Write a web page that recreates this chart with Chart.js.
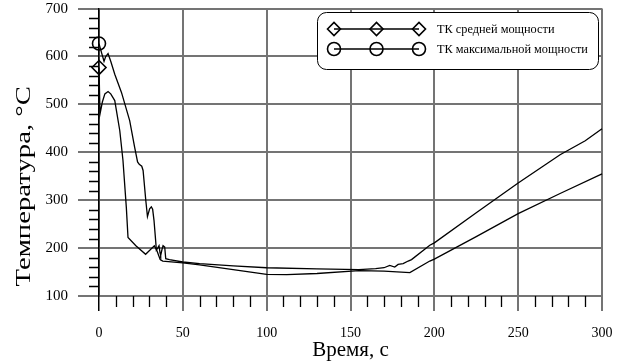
<!DOCTYPE html>
<html>
<head>
<meta charset="utf-8">
<script src="https://cdn.jsdelivr.net/npm/chart.js@4/dist/chart.umd.min.js"></script>
<style>
  html, body { margin: 0; padding: 0; background: #fff; }
  #wrap { width: 622px; height: 362px; }
</style>
</head>
<body>
<div id="wrap"><canvas id="chart" width="622" height="362"></canvas></div>
<script>
// ТК максимальной мощности
const timeMax = [0, 1.5, 3, 4, 5.4, 7, 9.4, 13.4, 18.3, 21.3, 23, 24, 25.5, 26.3, 27.9, 28.9, 30.2, 31.2, 32, 32.8, 33.8, 34.2, 35, 35.8, 36.4, 36.8, 37.5, 38.2, 39.2, 39.8, 42, 50, 60, 80, 100, 130, 155, 165, 170, 173.4, 176.4, 178.4, 181.4, 184.4, 186.4, 197.3, 200, 225, 250, 275, 290, 300];
const tempMax = [627, 608, 590, 600, 606, 590, 563, 525, 466, 410, 380, 375, 371, 362, 300, 266, 282, 286, 281, 258, 215, 196, 200, 205, 190, 185, 196, 205, 202, 178, 176, 171, 167.5, 163, 159, 156.5, 155, 157, 159, 164, 160.5, 166, 167.5, 173, 176, 206, 211, 274, 336, 395, 424, 449];

// ТК средней мощности
const timeAvg = [0, 0.6, 2, 3.5, 5.4, 7, 9.4, 12.4, 14.3, 16.3, 17.3, 22, 27.8, 33, 34.5, 36.5, 38, 50, 60, 80, 100, 112, 130, 155, 170, 185.4, 197.3, 200, 225, 250, 275, 300];
const tempAvg = [577, 480, 505, 522, 527, 522, 508, 445, 383, 285, 222, 205, 187, 205, 195, 176, 173, 169, 165, 155, 145, 144.5, 147, 153, 152, 149, 173, 177, 224, 272, 314, 355];

const seriesNames = ['ТК средней мощности', 'ТК максимальной мощности'];
const xMin = 0, xMax = 300, xMajor = 50, xMinor = 10;
const yMin = 100, yMax = 700, yMajor = 100, yMinor = 20;

const FONT = 'Liberation Serif';
const GRID = '#747474';

function toPoints(xs, ys) {
  return xs.map((x, i) => ({ x: x, y: ys[i] }));
}

// minor ticks, the y-axis title and the framed legend
const extras = {
  id: 'extras',
  afterDraw(chart) {
    const ctx = chart.ctx;
    const xs = chart.scales.x, ys = chart.scales.y;
    const area = chart.chartArea;
    ctx.save();
    ctx.strokeStyle = '#000';
    ctx.lineWidth = 1.3;
    ctx.beginPath();
    for (let v = xMin; v <= xMax; v += xMinor) {
      if (v % xMajor === 0) continue;
      const px = Math.round(xs.getPixelForValue(v)) + 0.5;
      ctx.moveTo(px, area.bottom);
      ctx.lineTo(px, area.bottom + 11);
    }
    for (let v = yMin; v <= yMax; v += yMinor) {
      if (v % yMajor === 0) continue;
      const py = Math.round(ys.getPixelForValue(v)) + 0.5;
      ctx.moveTo(area.left, py);
      ctx.lineTo(area.left - 10, py);
    }
    ctx.stroke();

    // y title
    ctx.save();
    ctx.translate(25, (area.top + area.bottom) / 2 + 34);
    ctx.rotate(-Math.PI / 2);
    ctx.scale(1.4, 1);
    ctx.fillStyle = '#000';
    ctx.font = '20.5px "' + FONT + '"';
    ctx.textAlign = 'center';
    ctx.textBaseline = 'middle';
    ctx.fillText('Температура, °C', 0, 0);
    ctx.restore();

    // legend
    ctx.beginPath();
    ctx.roundRect(317.5, 12.5, 281, 57, 9);
    ctx.fillStyle = '#fff';
    ctx.fill();
    ctx.strokeStyle = '#000';
    ctx.lineWidth = 1;
    ctx.stroke();
    const rows = [29, 49];
    chart.data.datasets.forEach((ds, i) => {
      const y = rows[i];
      ctx.strokeStyle = '#000';
      ctx.lineWidth = 1.3;
      ctx.beginPath();
      ctx.moveTo(334, y);
      ctx.lineTo(419, y);
      ctx.stroke();
      [334, 376.5, 419].forEach(x => {
        ctx.strokeStyle = '#000';
        ctx.fillStyle = 'rgba(0,0,0,0)';
        ctx.lineWidth = 1.6;
        Chart.helpers.drawPoint(ctx, {
          pointStyle: ds.pointStyle,
          radius: 6.5,
          rotation: 0,
          borderWidth: 1.6
        }, x, y);
      });
      ctx.fillStyle = '#000';
      ctx.font = '12.3px "' + FONT + '"';
      ctx.textAlign = 'left';
      ctx.textBaseline = 'middle';
      ctx.fillText(ds.label, 437, y + 0.5);
    });
    ctx.restore();
  }
};

function markerRadius(r) {
  return ctx => (ctx.dataIndex === 0 ? r : 0);
}

new Chart(document.getElementById('chart'), {
  type: 'line',
  data: {
    datasets: [
      {
        label: seriesNames[0],
        data: toPoints(timeAvg, tempAvg),
        borderColor: '#000',
        borderWidth: 1.3,
        pointStyle: 'rectRot',
        pointRadius: markerRadius(7),
        pointHoverRadius: 0,
        pointBorderColor: '#000',
        pointBackgroundColor: 'rgba(0,0,0,0)',
        pointBorderWidth: 1.6,
        tension: 0,
        clip: false
      },
      {
        label: seriesNames[1],
        data: toPoints(timeMax, tempMax),
        borderColor: '#000',
        borderWidth: 1.3,
        pointStyle: 'circle',
        pointRadius: markerRadius(6.5),
        pointHoverRadius: 0,
        pointBorderColor: '#000',
        pointBackgroundColor: 'rgba(0,0,0,0)',
        pointBorderWidth: 1.6,
        tension: 0,
        clip: false
      }
    ]
  },
  options: {
    responsive: false,
    animation: false,
    devicePixelRatio: 1,
    layout: { padding: { top: 8, right: 20, bottom: 0, left: 0 } },
    plugins: {
      legend: { display: false },
      tooltip: { enabled: false }
    },
    scales: {
      x: {
        type: 'linear',
        min: xMin,
        max: xMax,
        afterFit: s => { s.height = 66; s.paddingLeft = 0; s.paddingRight = 0; },
        border: { display: false },
        grid: {
          color: c => (c.tick.value === 0 ? '#000' : (c.tick.value % xMajor === 0 ? GRID : 'rgba(0,0,0,0)')),
          tickColor: c => (c.tick.value === 0 ? '#000' : (c.tick.value % xMajor === 0 ? GRID : 'rgba(0,0,0,0)')),
          lineWidth: c => (c.tick.value === 0 ? 1.5 : 2),
          tickLength: 15
        },
        ticks: {
          stepSize: xMinor,
          autoSkip: false,
          maxRotation: 0,
          padding: 14,
          color: '#000',
          font: { family: FONT, size: 14 },
          callback: v => (v % xMajor === 0 ? v : '')
        },
        title: {
          display: true,
          text: 'Время, с',
          color: '#000',
          font: { family: FONT, size: 21, lineHeight: 1.1 },
          padding: { top: 0, bottom: 0 }
        }
      },
      y: {
        min: yMin,
        max: yMax,
        afterFit: s => { s.width = 99; s.paddingTop = 0; s.paddingBottom = 0; },
        border: { display: true, color: '#000', width: 1.5 },
        grid: {
          color: c => (c.tick.value % yMajor === 0 ? GRID : 'rgba(0,0,0,0)'),
          tickColor: c => (c.tick.value % yMajor === 0 ? GRID : 'rgba(0,0,0,0)'),
          lineWidth: 2,
          tickLength: 21
        },
        ticks: {
          stepSize: yMinor,
          autoSkip: false,
          padding: 10,
          color: '#000',
          font: { family: FONT, size: 15 },
          callback: v => (v % yMajor === 0 ? v : '')
        }
      }
    }
  },
  plugins: [extras]
});
</script>
</body>
</html>
